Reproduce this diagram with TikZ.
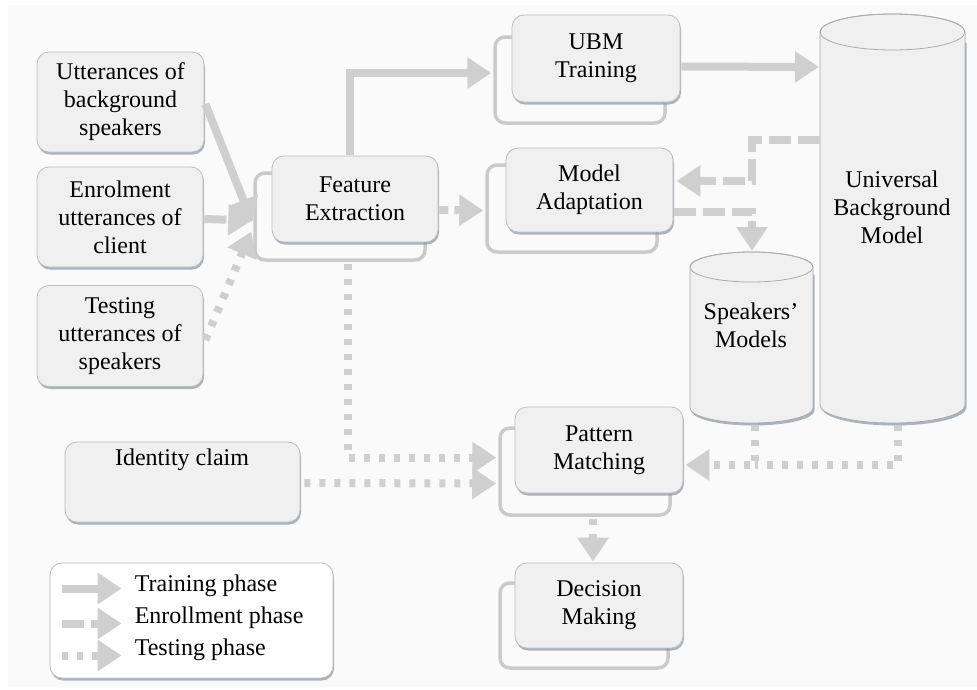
\documentclass[tikz,border=0pt]{standalone}
\usepackage{fontspec}
\setmainfont{Liberation Serif}
\newfontfamily\diagfont[Ligatures=TeX]{Liberation Serif}
\usetikzlibrary{arrows.meta,calc,shadows}
\definecolor{bgc}{HTML}{FAFAFA}
\definecolor{boxfill}{HTML}{F0F0F0}
\definecolor{boxdraw}{HTML}{BDBDBD}
\definecolor{shadowc}{HTML}{8896A8}
\definecolor{backdraw}{HTML}{CACACA}
\definecolor{arrowc}{HTML}{CFCFCF}
\definecolor{cyld}{HTML}{ABABAB}
\tikzset{
  txt/.style={font=\diagfont\fontsize{24}{28}\selectfont, align=center, inner sep=0pt},
  front/.style={txt, draw=boxdraw, line width=0.8pt, fill=boxfill, rounded corners=12pt,
    drop shadow={shadow xshift=1pt, shadow yshift=-2.5pt, fill=shadowc, opacity=0.7}},
  backbox/.style={draw=backdraw, line width=3.5pt, fill=bgc, rounded corners=10pt, inner sep=0pt},
  conn/.style={draw=arrowc, line width=8pt, line cap=butt, -{Triangle[length=24pt,width=30pt]}},
  train/.style={conn},
  enroll/.style={conn, dash pattern=on 22pt off 7pt},
  enrollshort/.style={conn, dash pattern=on 9pt off 6pt},
  test/.style={conn, dash pattern=on 6pt off 9pt},
  testline/.style={draw=arrowc, line width=8pt, line cap=butt, dash pattern=on 6pt off 9pt},
  cylfill/.style={fill=boxfill, draw=cyld, line width=0.8pt},
}
\begin{document}
\begin{tikzpicture}[x=1pt, y=-1pt]
\useasboundingbox (0,0) rectangle (977,689);
\fill[bgc] (8,5) rectangle (977,687);

% ---- cylinders ----
\begin{scope}[shift={(1.5,2.5)}]
  \fill[shadowc, opacity=0.7] (820,40) -- (820,405) arc[start angle=180, end angle=360, x radius=72.5pt, y radius=18pt] -- (965,40) -- cycle;
  \fill[shadowc, opacity=0.7] (690,272) -- (690,408) arc[start angle=180, end angle=360, x radius=61.5pt, y radius=15pt] -- (813,272) -- cycle;
\end{scope}
\filldraw[cylfill] (820,32) -- (820,405) arc[start angle=180, end angle=360, x radius=72.5pt, y radius=18pt] -- (965,32) arc[start angle=0, end angle=180, x radius=72.5pt, y radius=18pt] -- cycle;
\draw[cyld, line width=0.8pt] (892.5,32) ellipse[x radius=72.5pt, y radius=18pt];
\filldraw[cylfill] (690,267) -- (690,408) arc[start angle=180, end angle=360, x radius=61.5pt, y radius=15pt] -- (813,267) arc[start angle=0, end angle=180, x radius=61.5pt, y radius=15pt] -- cycle;
\draw[cyld, line width=0.8pt] (751.5,267) ellipse[x radius=61.5pt, y radius=15pt];
\node[txt] (ubmc) at (892,207) {Universal\\Background\\Model};
\node[txt] (spm) at (751,325) {Speakers’\\Models};
\coordinate (ubmIn) at (819,67);
\coordinate (ubmOut) at (820,140);
\coordinate (ubmBot) at (898,425);
\coordinate (spmTop) at (752,251);
\coordinate (spmBot) at (755,425);

% ---- back boxes ----
\node[backbox, minimum width=170pt, minimum height=87pt] (feb) at (340,216.5) {};
\node[backbox, minimum width=170pt, minimum height=86pt] (ubmb) at (580,80) {};
\node[backbox, minimum width=170pt, minimum height=87pt] (mab) at (572,208.5) {};
\node[backbox, minimum width=170pt, minimum height=87pt] (pmb) at (585,471.5) {};
\node[backbox, minimum width=168pt, minimum height=85pt] (dmb) at (584,625.5) {};

% ---- front boxes ----
\node[front, minimum width=167pt, minimum height=100pt] (ubs) at (120.5,102) {Utterances of\\background\\speakers};
\node[front, minimum width=166pt, minimum height=100pt] (enr) at (120,217) {Enrolment\\utterances of\\client};
\node[front, minimum width=166pt, minimum height=101pt] (tst) at (120,336) {Testing\\utterances of\\speakers};
\node[front, minimum width=166pt, minimum height=86pt] (fe) at (355,199) {Feature\\Extraction};
\node[front, minimum width=168pt, minimum height=87pt] (ubm) at (596,58.5) {UBM\\Training};
\node[front, minimum width=167pt, minimum height=84pt] (ma) at (589.5,190) {Model\\Adaptation};
\node[front, minimum width=168pt, minimum height=86pt] (pm) at (599,450) {Pattern\\Matching};
\node[front, minimum width=168pt, minimum height=85pt] (dm) at (599,605.5) {Decision\\Making};
\node[front, minimum width=235pt, minimum height=80pt] (idc) at (182.5,482) {};
\node[txt] (idct) at (182,460) {Identity claim};

% ---- connectors ----
\coordinate (cv) at ($(feb.west)+(-1,6)$);
\draw[train] ($(ubs.east)+(1,2)$) -- (cv);
\draw[enroll] ($(enr.east)+(1,2)$) -- ($(feb.west)+(-1,4)$);
\draw[test] ($(tst.east)+(2,4)$) -- ($(feb.west)+(-2,15)$);
\draw[train] ($(fe.north)+(-5,-1)$) |- ($(ubmb.west)+(-2,-7)$);
\draw[enrollshort] ($(fe.east)+(1,11)$) -- ($(mab.west)+(-2,2)$);
\draw[train] ($(ubm.east)+(1,8)$) -- (ubmIn);
\draw[enroll] (ubmOut) -- ++(-68,0) |- ($(ma.east)+(3,-9)$);
\draw[enroll] ($(ma.east)+(1,22)$) -| (spmTop);
\draw[test] ($(feb.south)+(8,2)$) |- ($(pmb.west)+(-2,-14)$);
\draw[test] ($(idc.east)+(4,1)$) -- ($(pmb.west)+(-2,12)$);
\draw[testline] (ubmBot) |- (spmBot |- 0,465);
\draw[test] (spmBot) |- ($(pm.east)+(2,15)$);
\draw[test] ($(pmb.south)+(8,2)$) -- ($(dm.north)+(-6,-1)$);

% ---- legend ----
\node[draw=boxdraw, line width=0.8pt, fill=white, rounded corners=12pt, inner sep=0pt,
  drop shadow={shadow xshift=1pt, shadow yshift=-2.5pt, fill=shadowc, opacity=0.7},
  minimum width=283pt, minimum height=115pt] (leg) at (191.5,620.5) {};
\coordinate (l1s) at ($(leg.west)+(12,-32)$);
\coordinate (l1e) at ($(leg.west)+(72,-32)$);
\coordinate (l2s) at ($(leg.west)+(12,3)$);
\coordinate (l2e) at ($(leg.west)+(72,3)$);
\coordinate (l3s) at ($(leg.west)+(12,35)$);
\coordinate (l3e) at ($(leg.west)+(72,35)$);
\draw[train] (l1s) -- (l1e);
\draw[conn, dash pattern=on 22pt off 7pt] (l2s) -- (l2e);
\draw[test] (l3s) -- (l3e);
\node[txt, anchor=west] (lt1) at ($(leg.west)+(85,-35)$) {Training phase};
\node[txt, anchor=west] (lt2) at ($(leg.west)+(85,-3)$) {Enrollment phase};
\node[txt, anchor=west] (lt3) at ($(leg.west)+(85,29)$) {Testing phase};
\end{tikzpicture}
\end{document}
